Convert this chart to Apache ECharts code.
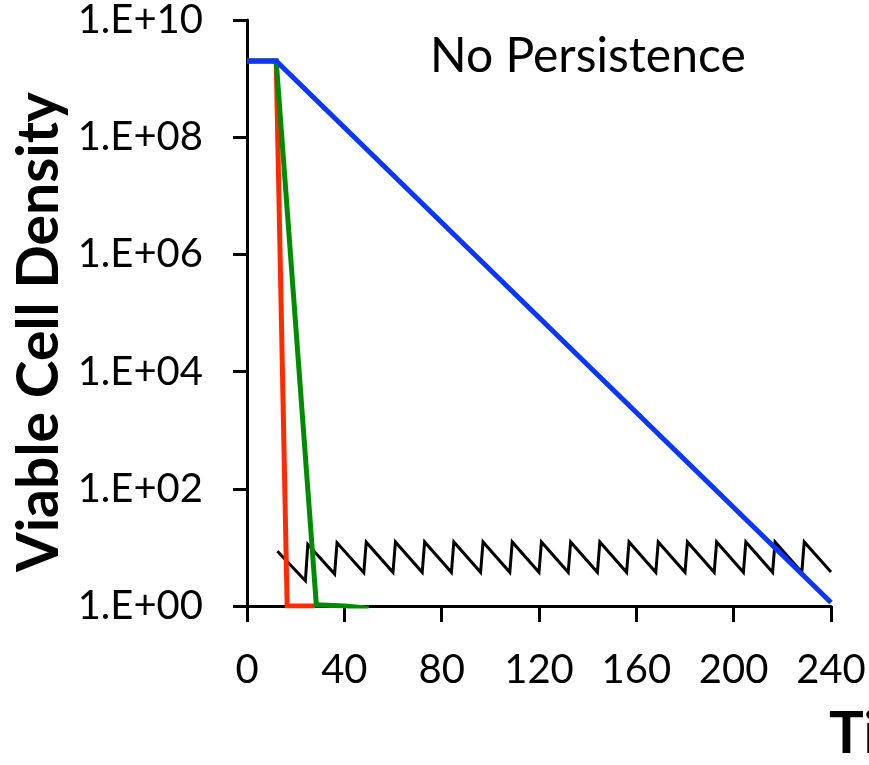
<!DOCTYPE html>
<html>
<head>
<meta charset="utf-8">
<script src="https://cdn.jsdelivr.net/npm/echarts@6/dist/echarts.min.js"></script>
<style>
  html, body { margin: 0; padding: 0; background: #fff; }
  #chart { width: 869px; height: 765px; }
</style>
</head>
<body>
<div id="chart"></div>
<script>
// Time axis (hours) and tick values
const xTicks = [0, 40, 80, 120, 160, 200, 240];

// Blue population: plateau, then steady log-linear decline
const blueTime = [0, 12, 240];
const blueValue = [2e9, 2e9, 1.15];

// Red population: rapid killing
const redTime = [0, 12, 16.5, 28];
const redValue = [2e9, 2e9, 1, 1];

// Green population: slightly slower killing
const greenTime = [0, 12, 28.5, 40, 50];
const greenValue = [2e9, 2e9, 1.05, 1, 0.92];

// Black trace: repeated dosing, concentration peaks and troughs
const drugTime = [12.5,
  24, 25, 36, 37, 48, 49, 60, 61, 72, 73, 84, 85, 96, 97, 108, 109,
  120, 121, 132, 133, 144, 145, 156, 157, 168, 169, 180, 181, 192, 193,
  204, 205, 216, 217, 228, 229, 240];
const drugValue = [8.6,
  2.7, 11.3, 3.5, 12.0, 3.7, 12.3, 3.75, 12.4, 3.75, 12.4, 3.75, 12.4, 3.75, 12.4, 3.75, 12.4,
  3.75, 12.4, 3.75, 12.4, 3.75, 12.4, 3.75, 12.4, 3.75, 12.4, 3.75, 12.4, 3.75, 12.4,
  3.75, 12.4, 3.75, 12.4, 3.75, 12.4, 3.8];

const zip = (xs, ys) => xs.map((x, i) => [x, ys[i]]);

const FONT = 'Lato';

const chart = echarts.init(document.getElementById('chart'), null, { renderer: 'canvas' });

function lineSeries(name, xs, ys, color, width) {
  return {
    name: name,
    type: 'line',
    data: zip(xs, ys),
    showSymbol: false,
    symbol: 'none',
    lineStyle: { color: color, width: width, cap: 'butt', join: 'miter' },
    clip: true,
    animation: false
  };
}

chart.setOption({
  animation: false,
  backgroundColor: '#ffffff',
  grid: { left: 247, right: 38, top: 20, bottom: 159, containLabel: false },
  xAxis: {
    type: 'value',
    min: 0,
    max: 240,
    interval: 40,
    axisLine: { show: true, onZero: false, lineStyle: { color: '#000', width: 3 } },
    axisTick: { show: true, inside: false, length: 16, lineStyle: { color: '#000', width: 3 } },
    axisLabel: {
      margin: 44,
      color: '#000',
      fontFamily: FONT,
      fontSize: 40,
      formatter: function (v) { return xTicks.indexOf(v) >= 0 ? String(v) : ''; }
    },
    splitLine: { show: false }
  },
  yAxis: {
    type: 'log',
    logBase: 10,
    min: 1,
    max: 1e10,
    interval: 2,
    axisLine: { show: true, lineStyle: { color: '#000', width: 3 } },
    axisTick: { show: true, inside: false, length: 14, lineStyle: { color: '#000', width: 3 } },
    minorTick: { show: false },
    axisLabel: {
      margin: 44,
      color: '#000',
      fontFamily: FONT,
      fontSize: 40,
      formatter: function (v) {
        const e = Math.round(Math.log10(v));
        return '1.E+' + (e < 10 ? '0' + e : String(e));
      }
    },
    splitLine: { show: false }
  },
  series: [
    lineSeries('Drug', drugTime, drugValue, '#000000', 3),
    lineSeries('Red', redTime, redValue, '#ff2a00', 5),
    lineSeries('Green', greenTime, greenValue, '#008c00', 5),
    lineSeries('Blue', blueTime, blueValue, '#0a36ff', 5)
  ],
  graphic: [
    {
      type: 'text',
      x: 430,
      y: 57,
      style: {
        text: 'No Persistence',
        font: '48px ' + FONT,
        fill: '#000',
        textAlign: 'left',
        textVerticalAlign: 'middle'
      }
    },
    {
      type: 'text',
      x: 40,
      y: 332,
      rotation: Math.PI / 2,
      style: {
        text: 'Viable Cell Density',
        font: 'bold 57px ' + FONT,
        fill: '#000',
        textAlign: 'center',
        textVerticalAlign: 'middle'
      }
    },
    {
      type: 'text',
      x: 829,
      y: 734,
      style: {
        text: 'Time',
        font: 'bold 58px ' + FONT,
        fill: '#000',
        textAlign: 'left',
        textVerticalAlign: 'middle'
      }
    }
  ]
});
</script>
</body>
</html>
